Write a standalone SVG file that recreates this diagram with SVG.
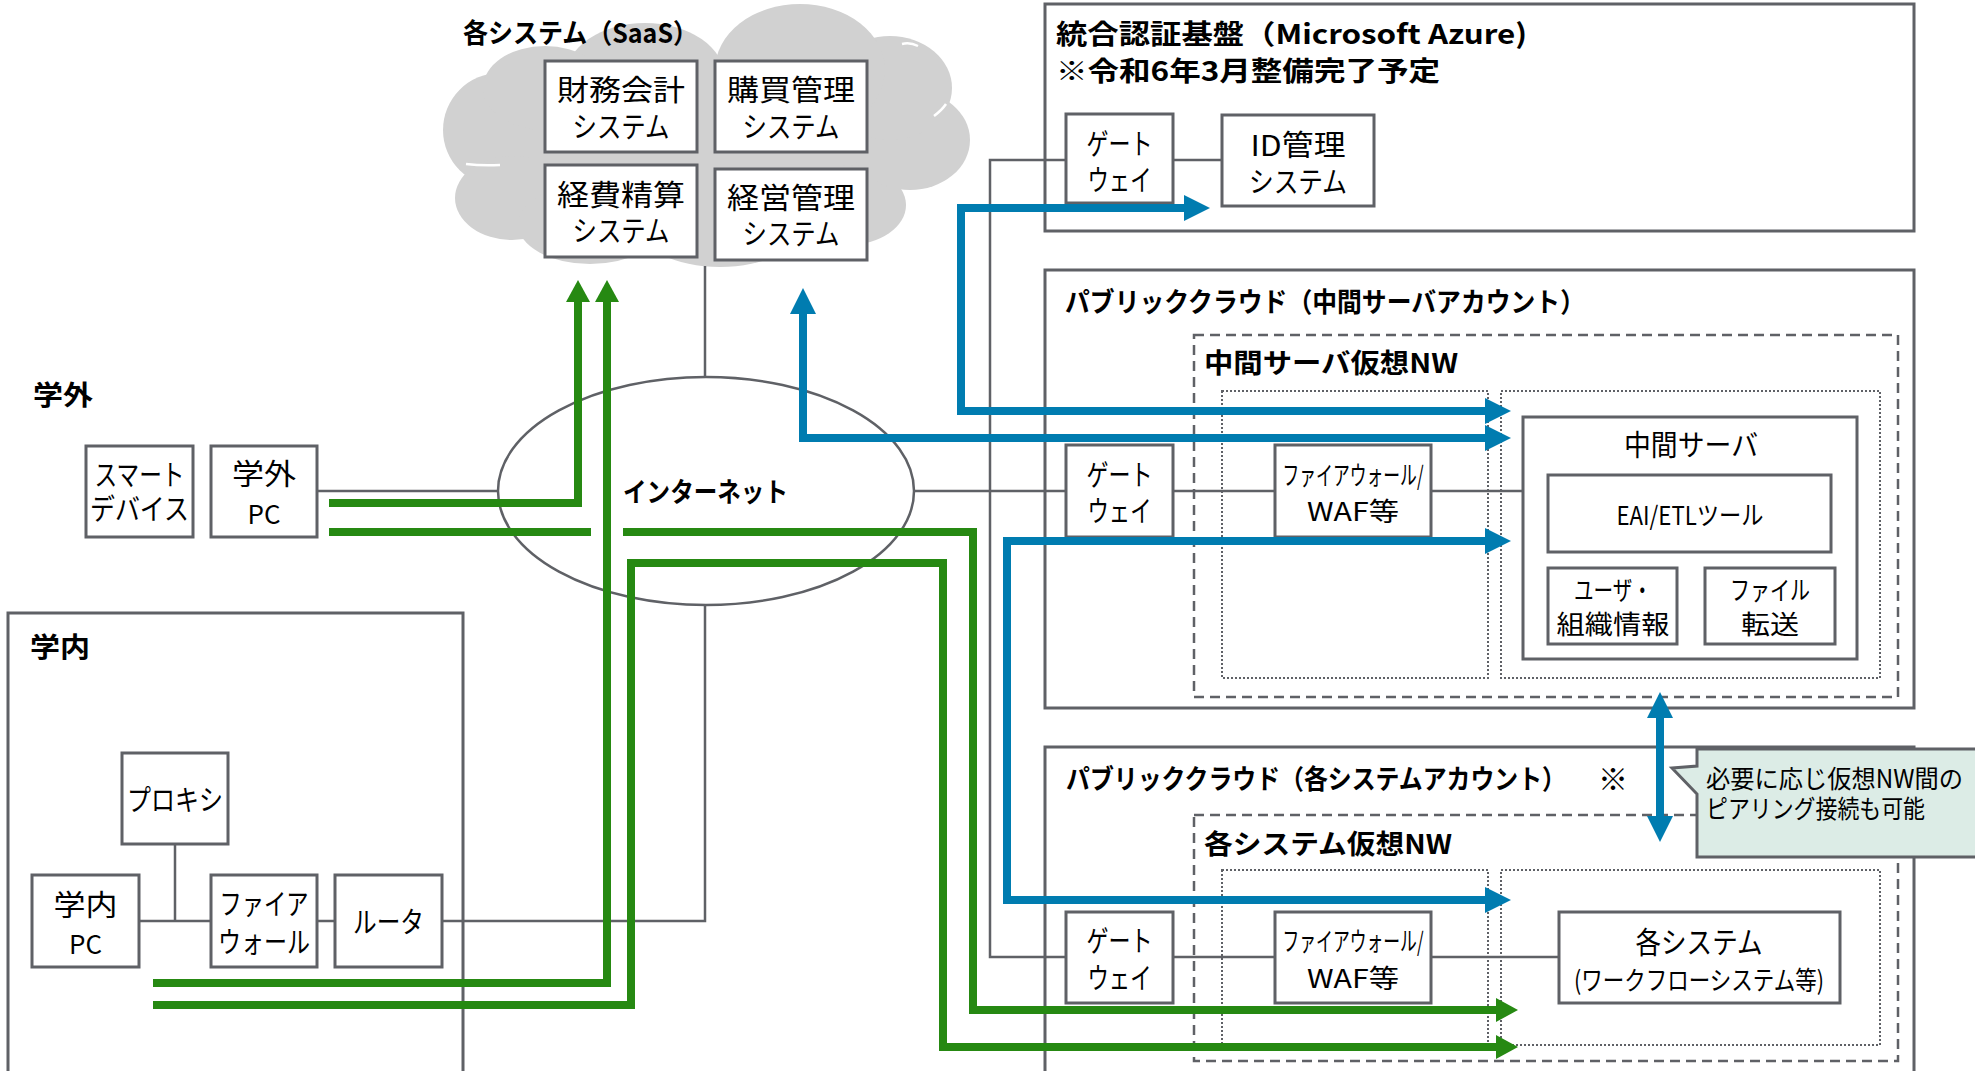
<svg xmlns="http://www.w3.org/2000/svg" width="1975" height="1071" viewBox="0 0 1975 1071">
<style>
.region{fill:#fff;stroke:#5f6166;stroke-width:3}
.box{fill:#fff;stroke:#5f6166;stroke-width:3}
.dash{fill:none;stroke:#5f6166;stroke-width:2.5;stroke-dasharray:10 6}
.dot{fill:none;stroke:#5f6166;stroke-width:2;stroke-dasharray:2 2}
.ln{fill:none;stroke:#5f6166;stroke-width:2.5}
.g{fill:none;stroke:#268912;stroke-width:8;marker-end:url(#ag)}
.gn{fill:none;stroke:#268912;stroke-width:8}
.b{fill:none;stroke:#007cb0;stroke-width:8;marker-start:url(#ab);marker-end:url(#ab)}
.cloud{fill:#d1d1d1}
.arc{fill:none;stroke:#fff;stroke-width:2.5}
text{font-family:"Noto Sans CJK JP","Noto Sans",sans-serif;fill:#000;dominant-baseline:central}
.t{font-size:29px;text-anchor:middle}
.s{font-size:26px;text-anchor:middle}
.h{font-size:27px;font-weight:bold}
</style>
<defs>
<marker id="ag" markerUnits="userSpaceOnUse" markerWidth="22" markerHeight="24" refX="0" refY="12" orient="auto-start-reverse" viewBox="0 0 22 24"><path d="M0,0 L22,12 L0,24 Z" fill="#268912"/></marker>
<marker id="ab" markerUnits="userSpaceOnUse" markerWidth="26" markerHeight="26" refX="0" refY="13" orient="auto-start-reverse" viewBox="0 0 26 26"><path d="M0,0 L26,13 L0,26 Z" fill="#007cb0"/></marker>
</defs>
<rect width="1975" height="1071" fill="#fff"/>

<!-- regions -->
<g id="region-gakunai">
<rect class="region" x="8" y="613" width="455" height="480"/>
<text class="h" x="30" y="645" textLength="60" lengthAdjust="spacingAndGlyphs">学内</text>
</g>
<g id="label-gakugai">
<text class="h" x="33" y="393" textLength="60" lengthAdjust="spacingAndGlyphs">学外</text>
</g>
<g id="region-auth">
<rect class="region" x="1045" y="4" width="869" height="227"/>
<text class="h" font-size="28"><tspan x="1056" y="32" textLength="471" lengthAdjust="spacingAndGlyphs">統合認証基盤（Microsoft Azure)</tspan><tspan x="1056" y="69" textLength="384" lengthAdjust="spacingAndGlyphs">※令和6年3月整備完了予定</tspan></text>
</g>
<g id="region-mid">
<rect class="region" x="1045" y="270" width="869" height="438"/>
<text class="h" x="1065" y="300" textLength="520" lengthAdjust="spacingAndGlyphs">パブリッククラウド（中間サーバアカウント）</text>
<rect class="dash" x="1194" y="335" width="704" height="362"/>
<text class="h" x="1204" y="361" textLength="254" lengthAdjust="spacingAndGlyphs">中間サーバ仮想NW</text>
<rect class="dot" x="1222" y="391" width="266" height="287"/>
<rect class="dot" x="1501" y="391" width="379" height="287"/>
</g>
<g id="region-sys">
<rect class="region" x="1045" y="747" width="869" height="340"/>
<text class="h" x="1066" y="777"><tspan textLength="500" lengthAdjust="spacingAndGlyphs">パブリッククラウド（各システムアカウント）</tspan><tspan x="1598" font-size="30">※</tspan></text>
<rect class="dash" x="1194" y="815" width="704" height="246"/>
<text class="h" x="1204" y="842" textLength="248" lengthAdjust="spacingAndGlyphs">各システム仮想NW</text>
<rect class="dot" x="1222" y="870" width="266" height="175"/>
<rect class="dot" x="1501" y="870" width="379" height="175"/>
</g>

<!-- cloud -->
<g id="saas-cloud">
<g class="cloud">
<ellipse cx="705" cy="150" rx="215" ry="88"/>
<circle cx="500" cy="130" r="57"/>
<ellipse cx="512" cy="198" rx="57" ry="42"/>
<ellipse cx="590" cy="224" rx="72" ry="40"/>
<ellipse cx="720" cy="225" rx="82" ry="42"/>
<ellipse cx="848" cy="205" rx="58" ry="40"/>
<ellipse cx="910" cy="140" rx="60" ry="50"/>
<ellipse cx="890" cy="88" rx="62" ry="52"/>
<ellipse cx="800" cy="70" rx="85" ry="66"/>
<ellipse cx="645" cy="78" rx="80" ry="55"/>
<ellipse cx="545" cy="88" rx="62" ry="42"/>
</g>
<path class="arc" d="M712,36 Q716,28 724,22"/>
<path class="arc" d="M902,44 Q910,42 918,46"/>
<path class="arc" d="M934,116 Q942,110 946,104"/>
<path class="arc" d="M466,164 Q482,166 500,165"/>
<text class="h" x="463" y="31" textLength="235" lengthAdjust="spacingAndGlyphs">各システム（SaaS）</text>
</g>
<g id="node-zaimu"><rect class="box" x="545" y="61" width="152" height="91"/><text class="t" font-size="31"><tspan x="621" y="88" textLength="128" lengthAdjust="spacingAndGlyphs">財務会計</tspan><tspan x="621" y="125" textLength="97" lengthAdjust="spacingAndGlyphs">システム</tspan></text></g>
<g id="node-kobai"><rect class="box" x="715" y="61" width="152" height="91"/><text class="t" font-size="31"><tspan x="791" y="88" textLength="128" lengthAdjust="spacingAndGlyphs">購買管理</tspan><tspan x="791" y="125" textLength="97" lengthAdjust="spacingAndGlyphs">システム</tspan></text></g>
<g id="node-keihi"><rect class="box" x="545" y="165" width="152" height="92"/><text class="t" font-size="31"><tspan x="621" y="193" textLength="128" lengthAdjust="spacingAndGlyphs">経費精算</tspan><tspan x="621" y="229" textLength="97" lengthAdjust="spacingAndGlyphs">システム</tspan></text></g>
<g id="node-keiei"><rect class="box" x="715" y="169" width="152" height="91"/><text class="t" font-size="31"><tspan x="791" y="196" textLength="128" lengthAdjust="spacingAndGlyphs">経営管理</tspan><tspan x="791" y="232" textLength="97" lengthAdjust="spacingAndGlyphs">システム</tspan></text></g>

<!-- internet -->
<g id="node-internet">
<ellipse cx="706" cy="491" rx="208" ry="114" fill="#fff" stroke="#5f6166" stroke-width="2.5"/>
<text class="h" x="623" y="490" textLength="165" lengthAdjust="spacingAndGlyphs">インターネット</text>
</g>

<!-- left nodes -->
<g id="node-smart"><rect class="box" x="86" y="446" width="107" height="91"/><text class="t"><tspan x="139.5" y="473" textLength="90" lengthAdjust="spacingAndGlyphs">スマート</tspan><tspan x="139.5" y="507" textLength="99" lengthAdjust="spacingAndGlyphs">デバイス</tspan></text></g>
<g id="node-gakugai-pc"><rect class="box" x="211" y="446" width="106" height="91"/><text class="t"><tspan x="264" y="472" textLength="64" lengthAdjust="spacingAndGlyphs">学外</tspan><tspan x="264" y="512" font-size="26" textLength="33" lengthAdjust="spacingAndGlyphs">PC</tspan></text></g>
<g id="node-proxy"><rect class="box" x="122" y="753" width="106" height="91"/><text class="t" x="175" y="798" textLength="96" lengthAdjust="spacingAndGlyphs">プロキシ</text></g>
<g id="node-gakunai-pc"><rect class="box" x="32" y="875" width="107" height="92"/><text class="t"><tspan x="85.5" y="903" textLength="64" lengthAdjust="spacingAndGlyphs">学内</tspan><tspan x="85.5" y="942" font-size="26" textLength="33" lengthAdjust="spacingAndGlyphs">PC</tspan></text></g>
<g id="node-fw"><rect class="box" x="211" y="875" width="106" height="92"/><text class="t"><tspan x="264" y="902" textLength="89" lengthAdjust="spacingAndGlyphs">ファイア</tspan><tspan x="264" y="940" textLength="92" lengthAdjust="spacingAndGlyphs">ウォール</tspan></text></g>
<g id="node-router"><rect class="box" x="335" y="875" width="107" height="92"/><text class="t" x="388.5" y="920" textLength="71" lengthAdjust="spacingAndGlyphs">ルータ</text></g>

<!-- right nodes -->
<g id="node-gw1"><rect class="box" x="1066" y="114" width="107" height="89"/><text class="t" font-size="28"><tspan x="1119.5" y="142" textLength="66" lengthAdjust="spacingAndGlyphs">ゲート</tspan><tspan x="1119.5" y="178" textLength="64" lengthAdjust="spacingAndGlyphs">ウェイ</tspan></text></g>
<g id="node-id"><rect class="box" x="1222" y="115" width="152" height="91"/><text class="t" font-size="28"><tspan x="1298" y="143" textLength="95" lengthAdjust="spacingAndGlyphs">ID管理</tspan><tspan x="1298" y="180" textLength="98" lengthAdjust="spacingAndGlyphs">システム</tspan></text></g>
<g id="node-gw2"><rect class="box" x="1066" y="445" width="107" height="92"/><text class="t" font-size="28"><tspan x="1119.5" y="473" textLength="66" lengthAdjust="spacingAndGlyphs">ゲート</tspan><tspan x="1119.5" y="509" textLength="64" lengthAdjust="spacingAndGlyphs">ウェイ</tspan></text></g>
<g id="node-fw1"><rect class="box" x="1275" y="445" width="156" height="92"/><text class="s"><tspan x="1353" y="473" textLength="141" lengthAdjust="spacingAndGlyphs">ファイアウォール/</tspan><tspan x="1353" y="509" textLength="92" lengthAdjust="spacingAndGlyphs">WAF等</tspan></text></g>
<g id="node-midserver"><rect class="box" x="1523" y="417" width="334" height="242"/><text class="t" font-size="30" x="1691" y="443" textLength="134" lengthAdjust="spacingAndGlyphs">中間サーバ</text></g>
<g id="node-eai"><rect class="box" x="1548" y="475" width="283" height="77"/><text class="s" x="1690" y="513" textLength="147" lengthAdjust="spacingAndGlyphs">EAI/ETLツール</text></g>
<g id="node-user"><rect class="box" x="1548" y="568" width="129" height="76"/><text class="s" font-size="28"><tspan x="1613" y="588" textLength="78" lengthAdjust="spacingAndGlyphs">ユーザ・</tspan><tspan x="1613" y="622" textLength="113" lengthAdjust="spacingAndGlyphs">組織情報</tspan></text></g>
<g id="node-file"><rect class="box" x="1705" y="568" width="130" height="76"/><text class="s" font-size="28"><tspan x="1770" y="588" textLength="80" lengthAdjust="spacingAndGlyphs">ファイル</tspan><tspan x="1770" y="622" textLength="58" lengthAdjust="spacingAndGlyphs">転送</tspan></text></g>
<g id="node-gw3"><rect class="box" x="1066" y="912" width="107" height="91"/><text class="t" font-size="28"><tspan x="1119.5" y="939" textLength="66" lengthAdjust="spacingAndGlyphs">ゲート</tspan><tspan x="1119.5" y="976" textLength="64" lengthAdjust="spacingAndGlyphs">ウェイ</tspan></text></g>
<g id="node-fw2"><rect class="box" x="1275" y="912" width="156" height="91"/><text class="s"><tspan x="1353" y="939" textLength="141" lengthAdjust="spacingAndGlyphs">ファイアウォール/</tspan><tspan x="1353" y="976" textLength="92" lengthAdjust="spacingAndGlyphs">WAF等</tspan></text></g>
<g id="node-systems"><rect class="box" x="1559" y="912" width="281" height="91"/><text class="s"><tspan x="1699" y="940" font-size="30" textLength="127" lengthAdjust="spacingAndGlyphs">各システム</tspan><tspan x="1699" y="978" textLength="250" lengthAdjust="spacingAndGlyphs">(ワークフローシステム等)</tspan></text></g>

<!-- connectors -->
<g id="connectors">
<path class="ln" d="M317,491 H498"/>
<path class="ln" d="M705,266 V377"/>
<path class="ln" d="M705,605 V921 H442"/>
<path class="ln" d="M139,921 H211 M175,844 V921 M317,921 H335"/>
<path class="ln" d="M914,491 H1066"/>
<path class="ln" d="M1066,160 H990 V957 H1066"/>
<path class="ln" d="M1173,160 H1222"/>
<path class="ln" d="M1173,491 H1275 M1431,491 H1523"/>
<path class="ln" d="M1173,957 H1275 M1431,957 H1559"/>

<path class="g" d="M329,503 H578 V302"/>
<path class="gn" d="M329,532 H591"/>
<path class="g" d="M623,532 H973 V1010 H1496"/>
<path class="g" d="M153,983 H607 V302"/>
<path class="g" d="M153,1005 H631 V563 H943 V1047 H1496"/>

<path class="b" d="M803,314 V438 H1485"/>
<path class="b" d="M1184,208 H961 V411 H1485"/>
<path class="b" d="M1485,541 H1007 V900 H1485"/>
<path class="b" d="M1660,718 V816"/>
</g>

<!-- callout -->
<g id="callout">
<path d="M1697,749 H1990 V857 H1697 V794 L1672,768 L1697,766 Z" fill="#dcece6" stroke="#5f6166" stroke-width="3"/>
<text font-size="25"><tspan x="1706" y="777" textLength="257" lengthAdjust="spacingAndGlyphs">必要に応じ仮想NW間の</tspan><tspan x="1706" y="807" textLength="219" lengthAdjust="spacingAndGlyphs">ピアリング接続も可能</tspan></text>
</g>
</svg>
